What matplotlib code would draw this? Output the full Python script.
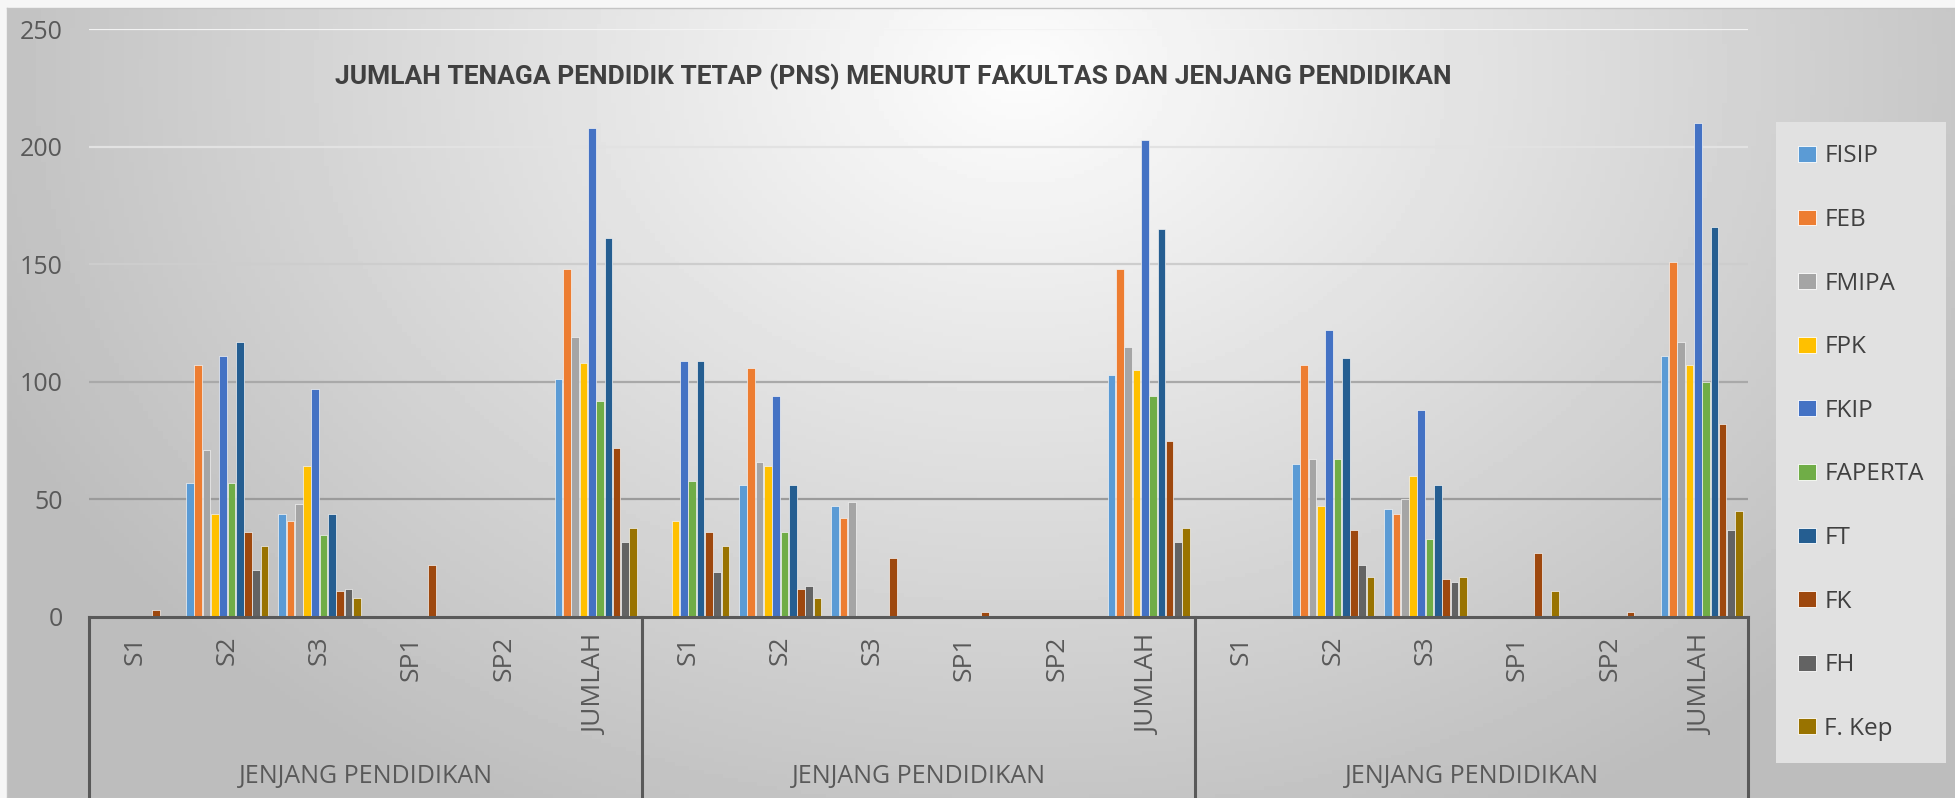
"""
Jumlah tenaga pendidik tetap (PNS) per fakultas dan jenjang
============================================================
"""

import matplotlib

matplotlib.use("Agg")
import matplotlib.pyplot as plt
import matplotlib.transforms as mtransforms
import numpy as np

W, H = 1956, 798  # output size in px
DPI = 100

TITLE = "JUMLAH TENAGA PENDIDIK TETAP (PNS) MENURUT FAKULTAS DAN JENJANG PENDIDIKAN"
LEVELS = ["S1", "S2", "S3", "SP1", "SP2", "JUMLAH"]
GROUPS = ["JENJANG PENDIDIKAN", "JENJANG PENDIDIKAN", "JENJANG PENDIDIKAN"]
FACULTIES = ["FISIP", "FEB", "FMIPA", "FPK", "FKIP", "FAPERTA", "FT", "FK", "FH", "F. Kep"]
COLORS = ["#5B9BD5", "#ED7D31", "#A5A5A5", "#FFC000", "#4472C4",
          "#70AD47", "#255E91", "#9E480E", "#636363", "#997300"]

# each list: 3 blocks of (S1, S2, S3, SP1, SP2, JUMLAH)
FISIP = [0, 57, 44, 0, 0, 101, 0, 56, 47, 0, 0, 103, 0, 65, 46, 0, 0, 111]
FEB = [0, 107, 41, 0, 0, 148, 0, 106, 42, 0, 0, 148, 0, 107, 44, 0, 0, 151]
FMIPA = [0, 71, 48, 0, 0, 119, 0, 66, 49, 0, 0, 115, 0, 67, 50, 0, 0, 117]
FPK = [0, 44, 64, 0, 0, 108, 41, 64, 0, 0, 0, 105, 0, 47, 60, 0, 0, 107]
FKIP = [0, 111, 97, 0, 0, 208, 109, 94, 0, 0, 0, 203, 0, 122, 88, 0, 0, 210]
FAPERTA = [0, 57, 35, 0, 0, 92, 58, 36, 0, 0, 0, 94, 0, 67, 33, 0, 0, 100]
FT = [0, 117, 44, 0, 0, 161, 109, 56, 0, 0, 0, 165, 0, 110, 56, 0, 0, 166]
FK = [3, 36, 11, 22, 0, 72, 36, 12, 25, 2, 0, 75, 0, 37, 16, 27, 2, 82]
FH = [0, 20, 12, 0, 0, 32, 19, 13, 0, 0, 0, 32, 0, 22, 15, 0, 0, 37]
FKEP = [0, 30, 8, 0, 0, 38, 30, 8, 0, 0, 0, 38, 0, 17, 17, 11, 0, 45]

SERIES = [FISIP, FEB, FMIPA, FPK, FKIP, FAPERTA, FT, FK, FH, FKEP]

FONT = ["Open Sans", "DejaVu Sans"]
TEXT_COLOR = "#595959"


def background(fig):
    # grey radial-ish gradient like the Excel chart area
    bg = fig.add_axes([7 / W, 0, 1 - 7 / W, 1 - 8 / H], zorder=-10)
    yy, xx = np.mgrid[0:1:200j, 0:1:400j]
    d = np.sqrt(((xx - 0.52) / 0.62) ** 2 + ((yy - 0.08) / 1.15) ** 2)
    img = np.clip(0.99 - 0.27 * d, 0.74, 1.0)
    bg.imshow(img, cmap="gray", vmin=0, vmax=1, aspect="auto",
              extent=[0, 1, 0, 1], origin="upper")
    bg.set_xticks([])
    bg.set_yticks([])
    for s in bg.spines.values():
        s.set_color("#c4c4c4")
        s.set_linewidth(1)


def main():
    fig = plt.figure(figsize=(W / DPI, H / DPI), dpi=DPI, facecolor="#f6f6f6")
    background(fig)

    ax = fig.add_axes([89 / W, 181 / H, (1748 - 89) / W, (617 - 29) / H])
    ax.set_facecolor("none")

    x = np.arange(len(LEVELS) * len(GROUPS))
    step = 0.09
    for i, (name, vals) in enumerate(zip(FACULTIES, SERIES)):
        vals = np.asarray(vals, dtype=float)
        keep = vals > 0
        ax.bar(x[keep] + (i - 4.5) * step, vals[keep], width=0.083,
               color=COLORS[i], edgecolor="#f4f4f4", linewidth=0.5,
               zorder=3)
        # empty proxy so every faculty shows in the legend
        ax.bar([np.nan], [np.nan], color=COLORS[i], edgecolor="#ffffff",
               linewidth=0.6, label=name)

    ax.set_xlim(-0.5, len(x) - 0.5)
    ax.set_ylim(0, 250)
    ax.set_yticks(range(0, 251, 50))
    ax.set_xticks(x, LEVELS * len(GROUPS), rotation=90)
    ax.tick_params(axis="x", length=0, pad=13, labelsize=19, labelcolor=TEXT_COLOR)
    ax.tick_params(axis="y", length=0, pad=19, labelsize=18, labelcolor=TEXT_COLOR)
    for lab in ax.get_xticklabels() + ax.get_yticklabels():
        lab.set_family(FONT)

    ax.yaxis.grid(True, linewidth=1.6, zorder=0)
    grid_cols = ["none", "#9b9b9b", "#a9a9a9", "#cdcdcd", "#e2e2e2", "#f3f3f3"]
    for line, c in zip(ax.get_ygridlines(), grid_cols):
        line.set_color(c)

    for side in ("top", "right", "left"):
        ax.spines[side].set_visible(False)
    ax.spines["bottom"].set_color("#595959")
    ax.spines["bottom"].set_linewidth(2.2)
    ax.spines["bottom"].set_zorder(5)

    # multi-level category axis: dividers and group names
    trans = mtransforms.blended_transform_factory(ax.transData, ax.transAxes)
    n = len(LEVELS)
    for g in range(len(GROUPS) + 1):
        xb = g * n - 0.5
        ax.plot([xb, xb], [0, -0.305], transform=trans, color="#595959",
                linewidth=2.2, clip_on=False, zorder=5)
    for g, name in enumerate(GROUPS):
        ax.text(g * n + (n - 1) / 2, -0.272, name, transform=trans,
                ha="center", va="center", fontsize=18, color=TEXT_COLOR,
                family=FONT)

    fig.text(893 / W, 1 - 77 / H, TITLE, ha="center", va="center",
             fontsize=19, fontweight="bold", color="#404040",
             family=["Roboto", "DejaVu Sans"])

    leg = fig.legend(loc="upper left", bbox_to_anchor=(1776 / W, 1 - 122 / H),
                     borderaxespad=0, frameon=True, fancybox=False,
                     prop={"family": FONT, "size": 17.5},
                     labelspacing=1.63, borderpad=0.92, handlelength=0.72,
                     handleheight=0.62, handletextpad=0.35)
    frame = leg.get_frame()
    frame.set_facecolor("#e1e1e1")
    frame.set_edgecolor("none")
    frame.set_alpha(1)
    for t in leg.get_texts():
        t.set_color("#404040")

    fig.savefig("out.png", dpi=DPI, facecolor=fig.get_facecolor())


if __name__ == "__main__":
    main()
